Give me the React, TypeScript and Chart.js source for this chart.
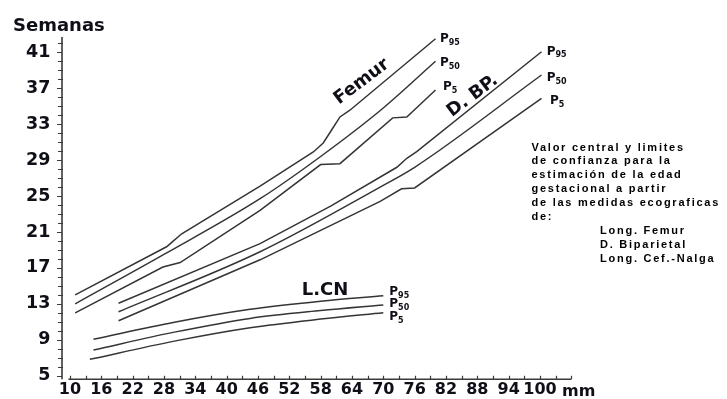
import React, { useEffect, useRef } from 'react';
import { Chart, registerables } from 'chart.js';

Chart.register(...registerables);

// ---- data (mm -> semanas) ----
const femurP95X = [11, 28.5, 29.6, 31.4, 46.4, 56.6, 58.5, 60.1, 61.7, 63.6, 80];
const femurP95Y = [14, 19.35, 19.9, 20.8, 26.1, 29.9, 30.9, 32.35, 33.8, 34.55, 42.5];
const femurP50X = [11, 28, 46.4, 58, 70, 80];
const femurP50Y = [13, 18.5, 24.7, 29.4, 34.8, 40];
const femurP5X = [11, 27.8, 31.1, 46.4, 58, 61.7, 71.8, 74.5, 80];
const femurP5Y = [12, 17.1, 17.6, 23.4, 28.5, 28.6, 33.7, 33.8, 36.8];

const bpdP95X = [19.3, 46.4, 60, 72.6, 74.5, 76.4, 100.3];
const bpdP95Y = [13.06, 19.7, 23.9, 28.2, 29.2, 29.95, 41.06];
const bpdP50X = [19.3, 46.4, 69.4, 76, 100.3];
const bpdP50Y = [12.12, 18.8, 26.0, 28.2, 38.47];
const bpdP5X = [19.3, 46.4, 69.4, 73.5, 76, 100.3];
const bpdP5Y = [11.12, 17.9, 24.4, 25.8, 25.9, 35.88];

const lcnP95X = [14.5, 30, 44.5, 58, 70];
const lcnP95Y = [9.05, 10.95, 12.39, 13.3, 13.9];
const lcnP50X = [14.5, 30, 44.5, 58, 70];
const lcnP50Y = [7.86, 9.85, 11.38, 12.25, 12.87];
const lcnP5X = [13.8, 30, 44.5, 58, 70];
const lcnP5Y = [6.82, 8.85, 10.34, 11.3, 12.01];

const X_TICKS = [10, 16, 22, 28, 34, 40, 46, 52, 58, 64, 70, 76, 82, 88, 94, 100];
const Y_TICKS = [5, 9, 13, 17, 21, 25, 29, 33, 37, 41];

const TITLE = 'Semanas';
const X_UNIT = 'mm';

// percentile labels: subscript text and anchor in data units (mm, semanas)
const P_LABELS = [
  { sub: '95', x: 80.86, y: 42.14 },
  { sub: '50', x: 80.86, y: 39.42 },
  { sub: '5', x: 81.43, y: 36.8 },
  { sub: '95', x: 101.29, y: 40.7 },
  { sub: '50', x: 101.29, y: 37.8 },
  { sub: '5', x: 101.93, y: 35.24 },
  { sub: '95', x: 71.15, y: 13.98 },
  { sub: '50', x: 71.15, y: 12.61 },
  { sub: '5', x: 71.15, y: 11.2 },
];

const CURVE_LABELS = [
  { text: 'Femur', x: 65.87, y: 37.72, angle: -37 },
  { text: 'D. BP.', x: 87.1, y: 36.13, angle: -37 },
  { text: 'L.CN', x: 58.84, y: 14.54, angle: 0 },
];

const NOTE_LINES = [
  'Valor central y limites',
  'de confianza para la',
  'estimación de la edad',
  'gestacional a partir',
  'de las medidas ecograficas',
  'de:',
];
const NOTE_ITEMS = ['Long. Femur', 'D. Biparietal', 'Long. Cef.-Nalga'];

const toPoints = (xs: number[], ys: number[]) => xs.map((x, i) => ({ x, y: ys[i] }));

// [points, smooth]
const SERIES: [ { x: number; y: number }[], boolean ][] = [
  [toPoints(femurP95X, femurP95Y), false],
  [toPoints(femurP50X, femurP50Y), true],
  [toPoints(femurP5X, femurP5Y), false],
  [toPoints(bpdP95X, bpdP95Y), false],
  [toPoints(bpdP50X, bpdP50Y), true],
  [toPoints(bpdP5X, bpdP5Y), false],
  [toPoints(lcnP95X, lcnP95Y), true],
  [toPoints(lcnP50X, lcnP50Y), true],
  [toPoints(lcnP5X, lcnP5Y), true],
];

const INK = '#0f0f18';
const LINE = '#353535';
const FONT = '"DejaVu Sans", sans-serif';

const decorPlugin = {
  id: 'decor',
  afterDraw(chart: any) {
    const ctx = chart.ctx as CanvasRenderingContext2D;
    const xs = chart.scales.x;
    const ys = chart.scales.y;
    ctx.save();

    // axes
    const axisX = xs.left - 6.4;
    ctx.strokeStyle = '#3a3a3a';
    ctx.lineWidth = 1.6;
    ctx.beginPath();
    ctx.moveTo(axisX, ys.top);
    ctx.lineTo(axisX, ys.bottom);
    ctx.moveTo(xs.left, ys.bottom);
    ctx.lineTo(xs.right, ys.bottom);
    ctx.stroke();

    ctx.lineWidth = 1.2;
    ctx.beginPath();
    for (let v = 5; v <= 42; v++) {
      const y = Math.round(ys.getPixelForValue(v)) + 0.5;
      const major = Y_TICKS.includes(v);
      ctx.moveTo(axisX - (major ? 5 : 4), y);
      ctx.lineTo(axisX + (major ? 0 : 1), y);
    }
    for (let v = 10; v <= 106; v += 3) {
      const x = Math.round(xs.getPixelForValue(v)) + 0.5;
      ctx.moveTo(x, ys.bottom);
      ctx.lineTo(x, ys.bottom - 3.5);
    }
    ctx.stroke();

    ctx.fillStyle = INK;
    // title
    ctx.font = `bold 18px ${FONT}`;
    ctx.textAlign = 'left';
    ctx.textBaseline = 'alphabetic';
    ctx.fillText(TITLE, 13, 31);

    // unit
    ctx.font = `bold 16px ${FONT}`;
    ctx.fillText(X_UNIT, xs.getPixelForValue(100) + 22, 395.5);

    // percentile labels
    for (const l of P_LABELS) {
      const px = xs.getPixelForValue(l.x);
      const py = ys.getPixelForValue(l.y);
      ctx.font = `bold 12px ${FONT}`;
      ctx.fillText('P', px, py);
      const w = ctx.measureText('P').width;
      ctx.font = `bold 8px ${FONT}`;
      ctx.fillText(l.sub, px + w, py + 2.5);
    }

    // curve names
    ctx.textAlign = 'center';
    ctx.textBaseline = 'middle';
    for (const l of CURVE_LABELS) {
      ctx.save();
      ctx.translate(xs.getPixelForValue(l.x), ys.getPixelForValue(l.y));
      ctx.rotate((l.angle * Math.PI) / 180);
      ctx.font = `bold 18px ${FONT}`;
      ctx.fillText(l.text, 0, 0);
      ctx.restore();
    }

    // explanatory note
    ctx.textAlign = 'left';
    ctx.textBaseline = 'alphabetic';
    ctx.fillStyle = '#000';
    ctx.font = 'bold 11px "Liberation Sans", Arial, sans-serif';
    (ctx as any).letterSpacing = '1.75px';
    let yy = 150.5;
    for (const t of NOTE_LINES) {
      ctx.fillText(t, 531.5, yy);
      yy += 13.9;
    }
    for (const t of NOTE_ITEMS) {
      ctx.fillText(t, 600, yy);
      yy += 13.9;
    }
    (ctx as any).letterSpacing = '0px';
    ctx.restore();
  },
};

export default function App() {
  const ref = useRef<HTMLCanvasElement | null>(null);

  useEffect(() => {
    if (!ref.current) return;
    const chart = new Chart(ref.current, {
      type: 'line',
      data: {
        datasets: SERIES.map(([pts, smooth]) => ({
          data: pts,
          borderColor: LINE,
          borderWidth: 1.5,
          pointRadius: 0,
          fill: false,
          tension: 0,
          cubicInterpolationMode: smooth ? ('monotone' as const) : ('default' as const),
        })),
      },
      options: {
        responsive: false,
        devicePixelRatio: 1,
        animation: false,
        events: [],
        layout: { padding: { top: 37, right: 155.7, left: 0, bottom: 0 }, autoPadding: false },
        plugins: { legend: { display: false }, tooltip: { enabled: false } },
        scales: {
          x: {
            type: 'linear',
            min: 9.7,
            max: 106,
            grid: { display: false, drawTicks: false },
            border: { display: false },
            afterBuildTicks: (s: any) => {
              s.ticks = X_TICKS.map((v) => ({ value: v }));
            },
            afterFit: (s: any) => {
              s.height = 19.7;
              s.paddingLeft = 0;
              s.paddingRight = 0;
            },
            ticks: {
              autoSkip: false,
              maxRotation: 0,
              padding: 1,
              color: INK,
              font: { family: FONT, size: 16, weight: 'bold' },
              callback: (v: any) => String(v),
            },
          },
          y: {
            type: 'linear',
            min: 4.6,
            max: 42.7,
            grid: { display: false, drawTicks: false },
            border: { display: false },
            afterBuildTicks: (s: any) => {
              s.ticks = Y_TICKS.map((v) => ({ value: v }));
            },
            afterFit: (s: any) => {
              s.width = 68.4;
              s.paddingTop = 0;
              s.paddingBottom = 0;
            },
            ticks: {
              padding: 18,
              color: INK,
              font: { family: FONT, size: 17.5, weight: 'bold' },
              callback: (v: any) => String(v),
            },
          },
        },
      },
      plugins: [decorPlugin],
    });
    return () => chart.destroy();
  }, []);

  return (
    <div style={{ position: 'fixed', left: 0, top: 0, width: 727, height: 399, background: '#fff' }}>
      <canvas ref={ref} width={727} height={399} style={{ display: 'block' }} />
    </div>
  );
}
